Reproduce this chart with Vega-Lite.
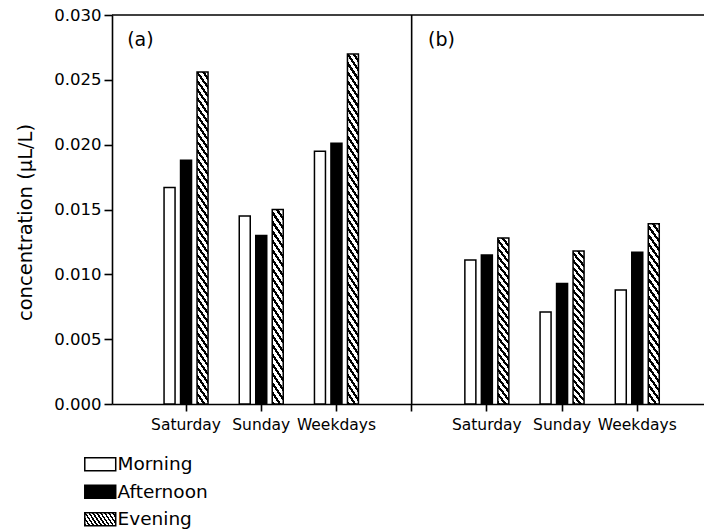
{
  "$schema": "https://vega.github.io/schema/vega-lite/v6.json",
  "width": 592,
  "height": 389,
  "autosize": {"type": "none"},
  "padding": {"left": 112, "top": 15, "right": 0, "bottom": 126},
  "background": "white",
  "config": {
    "font": "DejaVu Sans",
    "view": {"stroke": null},
    "axis": {"grid": false, "domainColor": "black", "tickColor": "black", "labelColor": "black", "titleColor": "black", "domainWidth": 1.6, "tickWidth": 1.6}
  },
  "datasets": {
    "bars": [
      {"slot": "a|Saturday", "period": "Morning", "value": 0.0167},
      {"slot": "a|Saturday", "period": "Afternoon", "value": 0.0188},
      {"slot": "a|Saturday", "period": "Evening", "value": 0.0256},
      {"slot": "a|Sunday", "period": "Morning", "value": 0.0145},
      {"slot": "a|Sunday", "period": "Afternoon", "value": 0.0130},
      {"slot": "a|Sunday", "period": "Evening", "value": 0.0150},
      {"slot": "a|Weekdays", "period": "Morning", "value": 0.0195},
      {"slot": "a|Weekdays", "period": "Afternoon", "value": 0.0201},
      {"slot": "a|Weekdays", "period": "Evening", "value": 0.0270},
      {"slot": "b|Saturday", "period": "Morning", "value": 0.0111},
      {"slot": "b|Saturday", "period": "Afternoon", "value": 0.0115},
      {"slot": "b|Saturday", "period": "Evening", "value": 0.0128},
      {"slot": "b|Sunday", "period": "Morning", "value": 0.0071},
      {"slot": "b|Sunday", "period": "Afternoon", "value": 0.0093},
      {"slot": "b|Sunday", "period": "Evening", "value": 0.0118},
      {"slot": "b|Weekdays", "period": "Morning", "value": 0.0088},
      {"slot": "b|Weekdays", "period": "Afternoon", "value": 0.0117},
      {"slot": "b|Weekdays", "period": "Evening", "value": 0.0139}
    ],
    "labels": [
      {"slot": "a|Saturday", "label": "(a)"},
      {"slot": "b|Saturday", "label": "(b)"}
    ]
  },
  "layer": [
    {
      "data": {"name": "bars"},
      "mark": {"type": "bar", "stroke": "black", "strokeWidth": 1.5},
      "encoding": {
        "x": {
          "field": "slot", "type": "nominal",
          "scale": {"domain": ["a|Saturday", "a|Sunday", "a|Weekdays", "|", "b|Saturday", "b|Sunday", "b|Weekdays"], "paddingInner": 0.1, "paddingOuter": 0.486, "align": 0.55},
          "axis": {"title": null, "labelExpr": "split(datum.label, '|')[1]", "labelFontSize": 15.5, "labelPadding": 6, "tickSize": 7, "labelAngle": 0, "labelOverlap": false}
        },
        "xOffset": {
          "field": "period", "type": "nominal",
          "scale": {"domain": ["Morning", "Afternoon", "Evening"], "paddingInner": 0.333, "paddingOuter": 0.718}
        },
        "y": {
          "field": "value", "type": "quantitative", "stack": null,
          "scale": {"domain": [0, 0.03], "nice": false},
          "axis": {"title": "concentration (μL/L)", "values": [0, 0.005, 0.01, 0.015, 0.02, 0.025, 0.03], "format": ".3f", "labelFontSize": 16.5, "labelPadding": 3, "tickSize": 8, "titleFontSize": 19.5, "titleFontWeight": "normal", "titleX": -87, "titleY": 207, "titleAngle": -90, "titleAlign": "center", "titleBaseline": "middle"}
        },
        "fill": {
          "field": "period", "type": "nominal",
          "scale": {"domain": ["Morning", "Afternoon", "Evening"], "range": ["white", "black", {"expr": "{gradient: 'linear', x1: 0, y1: 1, x2: 1.187, y2: 0.668, stops: [{offset: 0, color: '#000'}, {offset: 0.045, color: '#000'}, {offset: 0.045, color: '#fff'}, {offset: 0.1, color: '#fff'}, {offset: 0.1, color: '#000'}, {offset: 0.145, color: '#000'}, {offset: 0.145, color: '#fff'}, {offset: 0.2, color: '#fff'}, {offset: 0.2, color: '#000'}, {offset: 0.245, color: '#000'}, {offset: 0.245, color: '#fff'}, {offset: 0.3, color: '#fff'}, {offset: 0.3, color: '#000'}, {offset: 0.345, color: '#000'}, {offset: 0.345, color: '#fff'}, {offset: 0.4, color: '#fff'}, {offset: 0.4, color: '#000'}, {offset: 0.445, color: '#000'}, {offset: 0.445, color: '#fff'}, {offset: 0.5, color: '#fff'}, {offset: 0.5, color: '#000'}, {offset: 0.545, color: '#000'}, {offset: 0.545, color: '#fff'}, {offset: 0.6, color: '#fff'}, {offset: 0.6, color: '#000'}, {offset: 0.645, color: '#000'}, {offset: 0.645, color: '#fff'}, {offset: 0.7, color: '#fff'}, {offset: 0.7, color: '#000'}, {offset: 0.745, color: '#000'}, {offset: 0.745, color: '#fff'}, {offset: 0.8, color: '#fff'}, {offset: 0.8, color: '#000'}, {offset: 0.845, color: '#000'}, {offset: 0.845, color: '#fff'}, {offset: 0.9, color: '#fff'}, {offset: 0.9, color: '#000'}, {offset: 0.945, color: '#000'}, {offset: 0.945, color: '#fff'}, {offset: 1, color: '#fff'}]}"}]},
          "condition": [
            {"test": "datum.period === 'Evening' && datum.value > 0.02", "value": {"gradient": "linear", "x1": 0, "y1": 1, "x2": 0.0493, "y2": -0.0447, "stops": [
              {"offset": 0, "color": "#000"}, {"offset": 0.011, "color": "#000"}, {"offset": 0.011, "color": "#fff"}, {"offset": 0.025, "color": "#fff"},
              {"offset": 0.025, "color": "#000"}, {"offset": 0.036, "color": "#000"}, {"offset": 0.036, "color": "#fff"}, {"offset": 0.05, "color": "#fff"},
              {"offset": 0.05, "color": "#000"}, {"offset": 0.061, "color": "#000"}, {"offset": 0.061, "color": "#fff"}, {"offset": 0.075, "color": "#fff"},
              {"offset": 0.075, "color": "#000"}, {"offset": 0.086, "color": "#000"}, {"offset": 0.086, "color": "#fff"}, {"offset": 0.1, "color": "#fff"},
              {"offset": 0.1, "color": "#000"}, {"offset": 0.111, "color": "#000"}, {"offset": 0.111, "color": "#fff"}, {"offset": 0.125, "color": "#fff"},
              {"offset": 0.125, "color": "#000"}, {"offset": 0.136, "color": "#000"}, {"offset": 0.136, "color": "#fff"}, {"offset": 0.15, "color": "#fff"},
              {"offset": 0.15, "color": "#000"}, {"offset": 0.161, "color": "#000"}, {"offset": 0.161, "color": "#fff"}, {"offset": 0.175, "color": "#fff"},
              {"offset": 0.175, "color": "#000"}, {"offset": 0.186, "color": "#000"}, {"offset": 0.186, "color": "#fff"}, {"offset": 0.2, "color": "#fff"},
              {"offset": 0.2, "color": "#000"}, {"offset": 0.211, "color": "#000"}, {"offset": 0.211, "color": "#fff"}, {"offset": 0.225, "color": "#fff"},
              {"offset": 0.225, "color": "#000"}, {"offset": 0.236, "color": "#000"}, {"offset": 0.236, "color": "#fff"}, {"offset": 0.25, "color": "#fff"},
              {"offset": 0.25, "color": "#000"}, {"offset": 0.261, "color": "#000"}, {"offset": 0.261, "color": "#fff"}, {"offset": 0.275, "color": "#fff"},
              {"offset": 0.275, "color": "#000"}, {"offset": 0.286, "color": "#000"}, {"offset": 0.286, "color": "#fff"}, {"offset": 0.3, "color": "#fff"},
              {"offset": 0.3, "color": "#000"}, {"offset": 0.311, "color": "#000"}, {"offset": 0.311, "color": "#fff"}, {"offset": 0.325, "color": "#fff"},
              {"offset": 0.325, "color": "#000"}, {"offset": 0.336, "color": "#000"}, {"offset": 0.336, "color": "#fff"}, {"offset": 0.35, "color": "#fff"},
              {"offset": 0.35, "color": "#000"}, {"offset": 0.361, "color": "#000"}, {"offset": 0.361, "color": "#fff"}, {"offset": 0.375, "color": "#fff"},
              {"offset": 0.375, "color": "#000"}, {"offset": 0.386, "color": "#000"}, {"offset": 0.386, "color": "#fff"}, {"offset": 0.4, "color": "#fff"},
              {"offset": 0.4, "color": "#000"}, {"offset": 0.411, "color": "#000"}, {"offset": 0.411, "color": "#fff"}, {"offset": 0.425, "color": "#fff"},
              {"offset": 0.425, "color": "#000"}, {"offset": 0.436, "color": "#000"}, {"offset": 0.436, "color": "#fff"}, {"offset": 0.45, "color": "#fff"},
              {"offset": 0.45, "color": "#000"}, {"offset": 0.461, "color": "#000"}, {"offset": 0.461, "color": "#fff"}, {"offset": 0.475, "color": "#fff"},
              {"offset": 0.475, "color": "#000"}, {"offset": 0.486, "color": "#000"}, {"offset": 0.486, "color": "#fff"}, {"offset": 0.5, "color": "#fff"},
              {"offset": 0.5, "color": "#000"}, {"offset": 0.511, "color": "#000"}, {"offset": 0.511, "color": "#fff"}, {"offset": 0.525, "color": "#fff"},
              {"offset": 0.525, "color": "#000"}, {"offset": 0.536, "color": "#000"}, {"offset": 0.536, "color": "#fff"}, {"offset": 0.55, "color": "#fff"},
              {"offset": 0.55, "color": "#000"}, {"offset": 0.561, "color": "#000"}, {"offset": 0.561, "color": "#fff"}, {"offset": 0.575, "color": "#fff"},
              {"offset": 0.575, "color": "#000"}, {"offset": 0.586, "color": "#000"}, {"offset": 0.586, "color": "#fff"}, {"offset": 0.6, "color": "#fff"},
              {"offset": 0.6, "color": "#000"}, {"offset": 0.611, "color": "#000"}, {"offset": 0.611, "color": "#fff"}, {"offset": 0.625, "color": "#fff"},
              {"offset": 0.625, "color": "#000"}, {"offset": 0.636, "color": "#000"}, {"offset": 0.636, "color": "#fff"}, {"offset": 0.65, "color": "#fff"},
              {"offset": 0.65, "color": "#000"}, {"offset": 0.661, "color": "#000"}, {"offset": 0.661, "color": "#fff"}, {"offset": 0.675, "color": "#fff"},
              {"offset": 0.675, "color": "#000"}, {"offset": 0.686, "color": "#000"}, {"offset": 0.686, "color": "#fff"}, {"offset": 0.7, "color": "#fff"},
              {"offset": 0.7, "color": "#000"}, {"offset": 0.711, "color": "#000"}, {"offset": 0.711, "color": "#fff"}, {"offset": 0.725, "color": "#fff"},
              {"offset": 0.725, "color": "#000"}, {"offset": 0.736, "color": "#000"}, {"offset": 0.736, "color": "#fff"}, {"offset": 0.75, "color": "#fff"},
              {"offset": 0.75, "color": "#000"}, {"offset": 0.761, "color": "#000"}, {"offset": 0.761, "color": "#fff"}, {"offset": 0.775, "color": "#fff"},
              {"offset": 0.775, "color": "#000"}, {"offset": 0.786, "color": "#000"}, {"offset": 0.786, "color": "#fff"}, {"offset": 0.8, "color": "#fff"},
              {"offset": 0.8, "color": "#000"}, {"offset": 0.811, "color": "#000"}, {"offset": 0.811, "color": "#fff"}, {"offset": 0.825, "color": "#fff"},
              {"offset": 0.825, "color": "#000"}, {"offset": 0.836, "color": "#000"}, {"offset": 0.836, "color": "#fff"}, {"offset": 0.85, "color": "#fff"},
              {"offset": 0.85, "color": "#000"}, {"offset": 0.861, "color": "#000"}, {"offset": 0.861, "color": "#fff"}, {"offset": 0.875, "color": "#fff"},
              {"offset": 0.875, "color": "#000"}, {"offset": 0.886, "color": "#000"}, {"offset": 0.886, "color": "#fff"}, {"offset": 0.9, "color": "#fff"},
              {"offset": 0.9, "color": "#000"}, {"offset": 0.911, "color": "#000"}, {"offset": 0.911, "color": "#fff"}, {"offset": 0.925, "color": "#fff"},
              {"offset": 0.925, "color": "#000"}, {"offset": 0.936, "color": "#000"}, {"offset": 0.936, "color": "#fff"}, {"offset": 0.95, "color": "#fff"},
              {"offset": 0.95, "color": "#000"}, {"offset": 0.961, "color": "#000"}, {"offset": 0.961, "color": "#fff"}, {"offset": 0.975, "color": "#fff"},
              {"offset": 0.975, "color": "#000"}, {"offset": 0.986, "color": "#000"}, {"offset": 0.986, "color": "#fff"}, {"offset": 1, "color": "#fff"}
            ]}},
            {"test": "datum.period === 'Evening'", "value": {"gradient": "linear", "x1": 0, "y1": 1, "x2": 0.0911, "y2": -0.0769, "stops": [
              {"offset": 0, "color": "#000"}, {"offset": 0.02, "color": "#000"}, {"offset": 0.02, "color": "#fff"}, {"offset": 0.045, "color": "#fff"},
              {"offset": 0.045, "color": "#000"}, {"offset": 0.065, "color": "#000"}, {"offset": 0.065, "color": "#fff"}, {"offset": 0.09, "color": "#fff"},
              {"offset": 0.09, "color": "#000"}, {"offset": 0.11, "color": "#000"}, {"offset": 0.11, "color": "#fff"}, {"offset": 0.135, "color": "#fff"},
              {"offset": 0.135, "color": "#000"}, {"offset": 0.155, "color": "#000"}, {"offset": 0.155, "color": "#fff"}, {"offset": 0.18, "color": "#fff"},
              {"offset": 0.18, "color": "#000"}, {"offset": 0.2, "color": "#000"}, {"offset": 0.2, "color": "#fff"}, {"offset": 0.225, "color": "#fff"},
              {"offset": 0.225, "color": "#000"}, {"offset": 0.245, "color": "#000"}, {"offset": 0.245, "color": "#fff"}, {"offset": 0.27, "color": "#fff"},
              {"offset": 0.27, "color": "#000"}, {"offset": 0.29, "color": "#000"}, {"offset": 0.29, "color": "#fff"}, {"offset": 0.315, "color": "#fff"},
              {"offset": 0.315, "color": "#000"}, {"offset": 0.335, "color": "#000"}, {"offset": 0.335, "color": "#fff"}, {"offset": 0.36, "color": "#fff"},
              {"offset": 0.36, "color": "#000"}, {"offset": 0.38, "color": "#000"}, {"offset": 0.38, "color": "#fff"}, {"offset": 0.405, "color": "#fff"},
              {"offset": 0.405, "color": "#000"}, {"offset": 0.425, "color": "#000"}, {"offset": 0.425, "color": "#fff"}, {"offset": 0.45, "color": "#fff"},
              {"offset": 0.45, "color": "#000"}, {"offset": 0.47, "color": "#000"}, {"offset": 0.47, "color": "#fff"}, {"offset": 0.495, "color": "#fff"},
              {"offset": 0.495, "color": "#000"}, {"offset": 0.515, "color": "#000"}, {"offset": 0.515, "color": "#fff"}, {"offset": 0.54, "color": "#fff"},
              {"offset": 0.54, "color": "#000"}, {"offset": 0.56, "color": "#000"}, {"offset": 0.56, "color": "#fff"}, {"offset": 0.585, "color": "#fff"},
              {"offset": 0.585, "color": "#000"}, {"offset": 0.605, "color": "#000"}, {"offset": 0.605, "color": "#fff"}, {"offset": 0.63, "color": "#fff"},
              {"offset": 0.63, "color": "#000"}, {"offset": 0.65, "color": "#000"}, {"offset": 0.65, "color": "#fff"}, {"offset": 0.675, "color": "#fff"},
              {"offset": 0.675, "color": "#000"}, {"offset": 0.695, "color": "#000"}, {"offset": 0.695, "color": "#fff"}, {"offset": 0.72, "color": "#fff"},
              {"offset": 0.72, "color": "#000"}, {"offset": 0.74, "color": "#000"}, {"offset": 0.74, "color": "#fff"}, {"offset": 0.765, "color": "#fff"},
              {"offset": 0.765, "color": "#000"}, {"offset": 0.785, "color": "#000"}, {"offset": 0.785, "color": "#fff"}, {"offset": 0.81, "color": "#fff"},
              {"offset": 0.81, "color": "#000"}, {"offset": 0.83, "color": "#000"}, {"offset": 0.83, "color": "#fff"}, {"offset": 0.855, "color": "#fff"},
              {"offset": 0.855, "color": "#000"}, {"offset": 0.875, "color": "#000"}, {"offset": 0.875, "color": "#fff"}, {"offset": 0.9, "color": "#fff"},
              {"offset": 0.9, "color": "#000"}, {"offset": 0.92, "color": "#000"}, {"offset": 0.92, "color": "#fff"}, {"offset": 0.945, "color": "#fff"},
              {"offset": 0.945, "color": "#000"}, {"offset": 0.965, "color": "#000"}, {"offset": 0.965, "color": "#fff"}, {"offset": 0.99, "color": "#fff"},
              {"offset": 0.99, "color": "#000"}, {"offset": 1, "color": "#000"}
            ]}}
          ],
          "legend": {
            "orient": "none", "legendX": -21, "legendY": 440, "title": null, "direction": "vertical",
            "symbolType": "M-2.38,-1H2.38V1H-2.38Z", "symbolSize": 169, "symbolStrokeWidth": 1.5, "symbolOpacity": 1,
            "labelFontSize": 18.5, "labelColor": "black", "labelOffset": 8, "rowPadding": 7.5,
            "encode": {"symbols": {
              "stroke": {"value": "black"},
              "strokeWidth": {"value": 1.5}
            }}
          }
        }
      }
    },
    {
      "data": {"values": [{}]},
      "mark": {"type": "rule", "color": "black", "strokeWidth": 1.6},
      "encoding": {"y": {"datum": 0.03}}
    },
    {
      "data": {"values": [{}]},
      "mark": {"type": "rule", "color": "black", "strokeWidth": 1.6},
      "encoding": {"x": {"datum": "|"}}
    },
    {
      "data": {"name": "labels"},
      "mark": {"type": "text", "align": "left", "baseline": "middle", "fontSize": 19, "dx": -25, "color": "black"},
      "encoding": {
        "x": {"field": "slot", "type": "nominal", "bandPosition": 0},
        "y": {"datum": 0.0281},
        "text": {"field": "label"}
      }
    }
  ]
}
